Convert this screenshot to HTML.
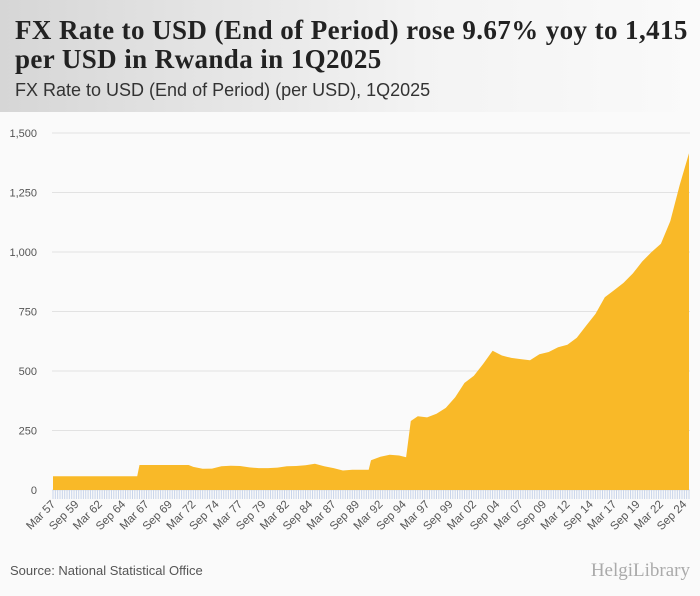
<!DOCTYPE html>
<html><head><meta charset="utf-8"><style>
body{margin:0;width:700px;height:596px;background:#fafafa;font-family:"Liberation Sans",sans-serif;overflow:hidden;position:relative}
#hdr{position:absolute;left:0;top:0;width:700px;height:112px;background:linear-gradient(90deg,#d6d6d6,#f3f3f3 60%,#fafafa)}
#title{position:absolute;left:15px;top:16px;font-family:"Liberation Serif",serif;font-weight:bold;font-size:27px;line-height:29px;color:#222;width:690px;letter-spacing:0.4px}
#sub{position:absolute;left:15px;top:80px;font-size:18px;color:#333}
#src{position:absolute;left:10px;top:563px;font-size:13px;color:#555}
#logo{position:absolute;right:10px;top:560px;font-family:"Liberation Serif",serif;font-size:19px;color:#aaa}
</style></head><body>
<div id="hdr"></div>
<div id="title">FX Rate to USD (End of Period) rose 9.67% yoy to 1,415<br>per USD in Rwanda in 1Q2025</div>
<div id="sub">FX Rate to USD (End of Period) (per USD), 1Q2025</div>
<svg id="chart" width="700" height="596" style="position:absolute;left:0;top:0"></svg>
<div id="src">Source: National Statistical Office</div>
<div id="logo">HelgiLibrary</div>
<script>
const years=[1957,1960,1965,1966,1966.25,1971.5,1972,1973,1974,1975,1976,1977,1978,1979,1980,1981,1982,1983,1984,1985,1986,1987,1988,1989,1990,1990.75,1991,1992,1993,1994,1994.75,1995.25,1996,1997,1998,1999,2000,2001,2002,2003,2004,2005,2006,2007,2008,2009,2010,2011,2012,2013,2014,2015,2016,2017,2018,2019,2020,2021,2022,2023,2024,2025];
const values=[58,58,58,58,105,105,97,89,90,100,102,101,95,92,92,94,100,101,104,110,100,92,82,85,85,85,125,140,148,145,138,290,310,305,320,345,390,450,480,530,585,565,555,550,545,570,580,600,610,640,690,740,810,840,870,910,960,1000,1035,1130,1280,1415];
const yTicks=[0,250,500,750,1000,1250,1500];
const yTickLabels=["0","250","500","750","1,000","1,250","1,500"];
const mon=["Mar","Sep"];
const NS="http://www.w3.org/2000/svg",svg=document.getElementById('chart');
const X0=53,X1=689,Y0=490,Y1=133,T0=1957,T1=2025;
const x=t=>X0+(t-T0)/(T1-T0)*(X1-X0);
const y=v=>Y0-v/1500*(Y0-Y1);
function mk(tag,at){const e=document.createElementNS(NS,tag);for(const k in at)e.setAttribute(k,at[k]);svg.appendChild(e);return e;}
yTicks.forEach((v,i)=>{
 const g=mk('line',{x1:52,x2:690,y1:y(v),y2:y(v),stroke:'#e2e2e2','stroke-width':1});
 
 
 const t=mk('text',{x:37,y:y(v)+4,'text-anchor':'end','font-size':11,fill:'#555','font-family':'Liberation Sans, sans-serif'});
 t.textContent=yTickLabels[i];
 
 
});
let d='M'+x(years[0])+','+y(0);
years.forEach((t,i)=>{d+=' L'+x(t).toFixed(1)+','+y(values[i]).toFixed(1);});
d+=' L'+x(years[years.length-1])+','+y(0)+' Z';
const a=mk('path',{d:d,fill:'#f9b928'});


for(let q=0;q<=(T1-T0)*4;q++){
 const tx=x(T0+q/4);
 const l=mk('line',{x1:tx,x2:tx,y1:490,y2:499,stroke:'#c8d4ea','stroke-width':1});
 
 
}
for(let q=0;q<=(T1-T0)*4;q+=10){
 const t=T0+q/4,yr=Math.floor(t),lab=mon[(q/2)%2]+' '+String(yr%100).padStart(2,'0');
 const tx=x(t)+3;
 const e=mk('text',{x:tx,y:505,'text-anchor':'end','font-size':11.5,fill:'#555','font-family':'Liberation Sans, sans-serif',transform:`rotate(-45 ${tx} 505)`});
 e.textContent=lab;
 
 
}
</script>
</body></html>
